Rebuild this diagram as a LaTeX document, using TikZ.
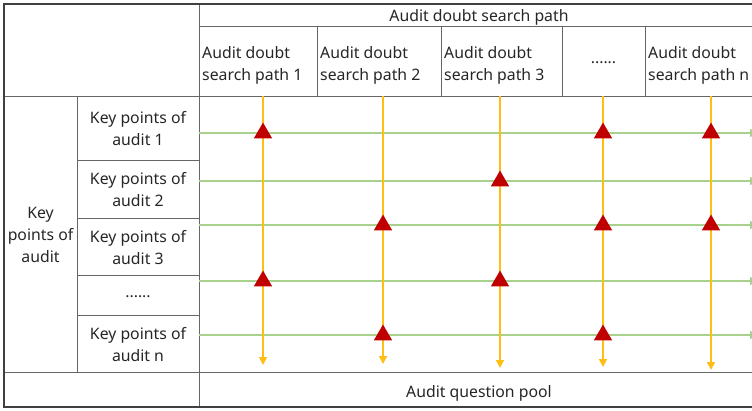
\documentclass[tikz,border=0pt]{standalone}
\usepackage{fontspec}
\setmainfont{Noto Sans}
\usetikzlibrary{arrows.meta,shapes.geometric}
\definecolor{outerc}{HTML}{404040}
\definecolor{innerc}{HTML}{666666}
\definecolor{orangec}{HTML}{FFBE14}
\definecolor{greenc}{HTML}{A9D18E}
\definecolor{redc}{HTML}{C00000}
\definecolor{textc}{HTML}{262626}
\begin{document}
\begin{tikzpicture}[x=1pt,y=-1pt,
  outerline/.style={draw=outerc,line width=1.3pt},
  innerline/.style={draw=innerc,line width=0.8pt},
  txt/.style={font=\fontsize{15.8}{22}\selectfont,text=textc,inner sep=0pt,align=center},
  ltxt/.style={txt,align=left,anchor=west},
  orangeline/.style={draw=orangec,line width=1.6pt,-{Triangle[width=8pt,length=8pt]}},
  greenline/.style={draw=greenc,line width=1.6pt,-{Triangle[width=8pt,length=8pt]}},
  tri/.style={regular polygon,regular polygon sides=3,fill=redc,inner sep=0pt,minimum size=21pt}]
\useasboundingbox (0,0) rectangle (752,410);
\clip (0,0) rectangle (752,410);
% grid
\draw[innerline] (199,4) -- (199,407);
\draw[innerline] (199,26) -- (752,26);
\draw[innerline] (4,96) -- (752,96);
\draw[innerline] (4,372) -- (752,372);
\draw[innerline] (77,96) -- (77,372);
\foreach \yy in {160,218,275,315} \draw[innerline] (77,\yy) -- (199,\yy);
\foreach \xx in {317,441,562,645} \draw[innerline] (\xx,26) -- (\xx,96);
\draw[outerline] (752,4) -- (4,4) -- (4,407) -- (752,407);
% texts
\node[txt,anchor=base] (hdr) at (479,21) {Audit doubt search path};
\node[ltxt] (p1) at (202,65) {Audit doubt\\search path 1};
\node[ltxt] (p2) at (320,65) {Audit doubt\\search path 2};
\node[ltxt] (p3) at (444,65) {Audit doubt\\search path 3};
\node[txt,anchor=base] (pd) at (603.5,63) {......};
\node[ltxt] (pn) at (648,65) {Audit doubt\\search path n};
\node[txt] (kp) at (40.5,235) {Key\\points of\\audit};
\node[txt] (k1) at (138,129) {Key points of\\audit 1};
\node[txt] (k2) at (138,190) {Key points of\\audit 2};
\node[txt] (k3) at (138,247.5) {Key points of\\audit 3};
\node[txt,anchor=base] (kd) at (138,297) {......};
\node[txt] (kn) at (138,344.5) {Key points of\\audit n};
\node[txt,anchor=base] (pool) at (479,397) {Audit question pool};
% coordinates
\foreach \i/\xx/\ye in {1/263/365,2/383/364,3/500/368,4/603/367,5/711/370}{
  \coordinate (os\i) at (\xx,96);
  \coordinate (oe\i) at (\xx,\ye);
}
\foreach \j/\yy in {1/133,2/181,3/225,4/281,5/335}{
  \coordinate (gs\j) at (199,\yy);
  \coordinate (ge\j) at (758,\yy);
}
% green lines
\foreach \j in {1,...,5} \draw[greenline] (gs\j) -- (ge\j);
% orange lines
\foreach \i in {1,...,5} \draw[orangeline] (os\i) -- (oe\i);
% triangles
\node[tri] (t11) at (263,133) {};
\node[tri] (t14) at (603,133) {};
\node[tri] (t15) at (711,133) {};
\node[tri] (t23) at (500,181) {};
\node[tri] (t32) at (383,225) {};
\node[tri] (t34) at (603,225) {};
\node[tri] (t35) at (711,225) {};
\node[tri] (t41) at (263,281) {};
\node[tri] (t43) at (500,281) {};
\node[tri] (t52) at (383,335) {};
\node[tri] (t54) at (603,335) {};
\end{tikzpicture}
\end{document}
